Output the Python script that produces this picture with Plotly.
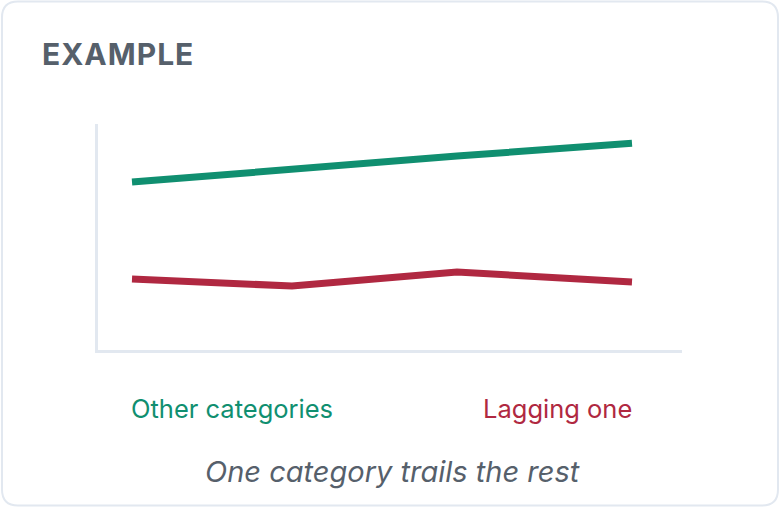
import plotly.graph_objects as go

# data
x_pos = [0, 3.2, 6.5, 10]
other_categories = [74.3, 80.1, 85.8, 91.5]
lagging_one = [31.4, 28.3, 34.5, 30.1]

GREEN = "#108f70"
RED = "#b02841"
GRID = "#e2e8f0"
TEXT = "#56606b"

W, H = 780, 507
L, R, T, B = 98, 98, 124, 157
PW, PH = W - L - R, H - T - B


def px(x):
    return (x - L) / PW


def py(y):
    return (H - B - y) / PH


def card_path(x0, y0, x1, y1, r):
    # rounded rectangle in pixel units -> paper path
    pts = [
        ("M", x0 + r, y0), ("L", x1 - r, y0), ("Q", x1, y0, x1, y0 + r),
        ("L", x1, y1 - r), ("Q", x1, y1, x1 - r, y1), ("L", x0 + r, y1),
        ("Q", x0, y1, x0, y1 - r), ("L", x0, y0 + r), ("Q", x0, y0, x0 + r, y0),
    ]
    out = []
    for p in pts:
        cmd, coords = p[0], p[1:]
        xy = []
        for i in range(0, len(coords), 2):
            xy.append(f"{px(coords[i]):.5f},{py(coords[i + 1]):.5f}")
        out.append(cmd + " " + " ".join(xy))
    return " ".join(out) + " Z"


fig = go.Figure()
fig.add_trace(go.Scatter(x=x_pos, y=other_categories, mode="lines",
                         line=dict(color=GREEN, width=7), hoverinfo="skip"))
fig.add_trace(go.Scatter(x=x_pos, y=lagging_one, mode="lines",
                         line=dict(color=RED, width=7), hoverinfo="skip"))

fig.add_shape(type="path", xref="paper", yref="paper",
              path=card_path(2, 1.5, 778, 505.5, 16),
              line=dict(color=GRID, width=2), layer="below")

fig.add_annotation(text='<span style="letter-spacing:1px">EXAMPLE</span>',
                   xref="paper", yref="paper", x=px(40), y=py(54),
                   xanchor="left", yanchor="middle", showarrow=False,
                   font=dict(family="Inter", size=30, color=TEXT, weight="bold"))
fig.add_annotation(text="Other categories", xref="x", yref="paper",
                   x=x_pos[0], y=py(408), xanchor="left", yanchor="middle",
                   xshift=-3, showarrow=False,
                   font=dict(family="Inter", size=25.5, color=GREEN))
fig.add_annotation(text="Lagging one", xref="x", yref="paper",
                   x=x_pos[-1], y=py(408), xanchor="right", yanchor="middle",
                   xshift=2, showarrow=False,
                   font=dict(family="Inter", size=25.5, color=RED))
fig.add_annotation(text="One category trails the rest", xref="paper", yref="paper",
                   x=px(392), y=py(471), xanchor="center", yanchor="middle",
                   showarrow=False,
                   font=dict(family="Inter", size=29, color=TEXT, style="italic"))

fig.update_xaxes(range=[-0.68, 11.0], showline=True, linecolor=GRID, linewidth=2.5,
                 showgrid=False, zeroline=False, showticklabels=False, ticks="")
fig.update_yaxes(range=[0, 100], showline=True, linecolor=GRID, linewidth=2.5,
                 showgrid=False, zeroline=False, showticklabels=False, ticks="")
fig.update_layout(width=W, height=H, margin=dict(l=L, r=R, t=T, b=B),
                  paper_bgcolor="white", plot_bgcolor="white", showlegend=False)

fig.write_html("out.html", config={"displayModeBar": False},
               post_script="document.body.style.margin='0';")
